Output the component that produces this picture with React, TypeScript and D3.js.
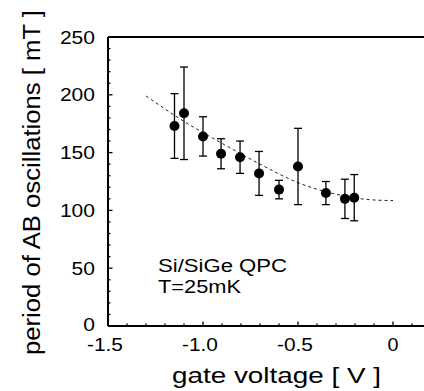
import React from "react";
import * as d3 from "d3";

const voltages = [-1.15, -1.1, -1.0, -0.905, -0.805, -0.705, -0.6, -0.5, -0.353, -0.253, -0.204];
const periods = [173, 184, 164, 149, 146, 132, 118, 138, 115, 110, 111];
const errTop = [201, 224, 181, 162, 160, 151, 126, 171, 125, 127, 131];
const errBottom = [145, 144, 147, 136, 132, 113, 110, 105, 105, 93, 91];

const fitV = [-1.3, -1.1, -0.9, -0.7, -0.5, -0.3, -0.1, 0];
const fitP = [199, 177, 158, 140, 124, 114, 109, 108.5];

const xTicks = [-1.5, -1.0, -0.5, 0];
const xTickLabels = ["-1.5", "-1.0", "-0.5", "0"];
const yTicks = [0, 50, 100, 150, 200, 250];

const FONT = "'Liberation Sans', Arial, Helvetica, sans-serif";

export default function App() {
  const W = 424, H = 391;
  const left = 108, top = 37, bottom = 326;
  const x = d3.scaleLinear().domain([-1.5, 0]).range([left, 393]);
  const y = d3.scaleLinear().domain([0, 250]).range([bottom, top]);

  const minorX = d3.range(-15, 2).map((i) => i / 10);
  const minorY = d3.range(0, 26).map((i) => i * 10);

  const line = d3
    .line<number>()
    .x((_, i) => x(fitV[i]))
    .y((d) => y(d))
    .curve(d3.curveMonotoneX);

  return (
    <svg width={W} height={H} style={{ position: "absolute", left: 0, top: 0, background: "#fff" }}>
      <line x1={left} y1={top} x2={W} y2={top} stroke="#000" strokeWidth={2} />
      <line x1={left} y1={top} x2={left} y2={bottom} stroke="#000" strokeWidth={2} />
      <line x1={left} y1={bottom} x2={W} y2={bottom} stroke="#000" strokeWidth={2} />
      {minorY.map((v) => (
        <line
          key={"my" + v}
          x1={left}
          x2={left + (v % 50 === 0 ? 4.5 : 2.5)}
          y1={y(v)}
          y2={y(v)}
          stroke="#000"
          strokeWidth={1.3}
        />
      ))}
      {minorX.map((v) => (
        <line
          key={"mx" + v}
          x1={x(v)}
          x2={x(v)}
          y1={bottom}
          y2={bottom - (Math.round(v * 10) % 5 === 0 ? 4.5 : 2.5)}
          stroke="#000"
          strokeWidth={1.3}
        />
      ))}
      {yTicks.map((v) => {
        const s = String(v);
        return (
          <text
            key={"yl" + v}
            x={95}
            y={y(v) + (v === 0 ? 5 : 6.5)}
            textAnchor="end"
            fontFamily={FONT}
            fontSize={18}
            fill="#000"
            textLength={s.length * 11.7}
            lengthAdjust="spacingAndGlyphs"
          >
            {s}
          </text>
        );
      })}
      {xTicks.map((v, i) => {
        const s = xTickLabels[i];
        return (
          <text
            key={"xl" + v}
            x={x(v) - (v < 0 ? 3 : 0)}
            y={351}
            textAnchor="middle"
            fontFamily={FONT}
            fontSize={18}
            fill="#000"
            textLength={v < 0 ? 36 : 11}
            lengthAdjust="spacingAndGlyphs"
          >
            {s}
          </text>
        );
      })}
      <text
        x={172}
        y={383}
        fontFamily={FONT}
        fontSize={22.5}
        fill="#000"
        textLength={209}
        lengthAdjust="spacingAndGlyphs"
      >
        gate voltage [ V ]
      </text>
      <text
        transform="translate(40,355) rotate(-90)"
        fontFamily={FONT}
        fontSize={23}
        fill="#000"
        textLength={345}
        lengthAdjust="spacingAndGlyphs"
      >
        period of AB oscillations [ mT ]
      </text>
      <text x={158} y={272} fontFamily={FONT} fontSize={18} fill="#000" textLength={129} lengthAdjust="spacingAndGlyphs">
        Si/SiGe QPC
      </text>
      <text x={158} y={293} fontFamily={FONT} fontSize={18} fill="#000" textLength={83} lengthAdjust="spacingAndGlyphs">
        T=25mK
      </text>
      <path d={line(fitP) || ""} fill="none" stroke="#222" strokeWidth={1} strokeDasharray="3,3" />
      {voltages.map((v, i) => {
        const cx = x(v);
        return (
          <g key={"p" + i}>
            <line x1={cx} x2={cx} y1={y(errTop[i])} y2={y(errBottom[i])} stroke="#000" strokeWidth={1.3} />
            <line x1={cx - 4} x2={cx + 4} y1={y(errTop[i])} y2={y(errTop[i])} stroke="#000" strokeWidth={1.3} />
            <line x1={cx - 4} x2={cx + 4} y1={y(errBottom[i])} y2={y(errBottom[i])} stroke="#000" strokeWidth={1.3} />
            <circle cx={cx} cy={y(periods[i])} r={5} fill="#000" />
          </g>
        );
      })}
    </svg>
  );
}
